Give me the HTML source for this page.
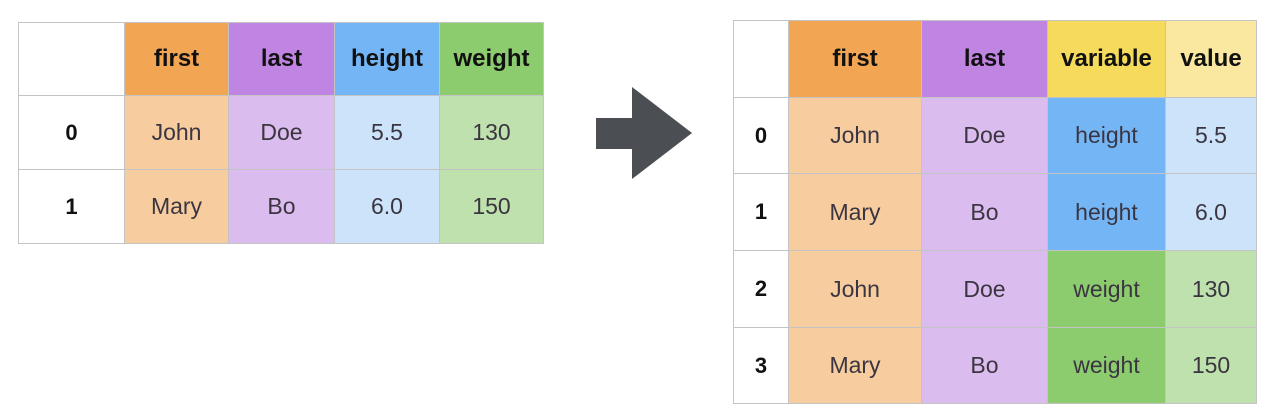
<!DOCTYPE html>
<html><head><meta charset="utf-8"><style>
html,body{margin:0;padding:0;background:#fff;}
body{width:1278px;height:415px;position:relative;overflow:hidden;font-family:"Liberation Sans",sans-serif;}
.c{position:absolute;box-sizing:border-box;border:1px solid #c4c4c4;display:flex;align-items:center;justify-content:center;font-size:23px;color:#3a3540;}
.h{font-weight:bold;font-size:24px;color:#111;}
.i{font-weight:bold;font-size:22px;color:#111;background:#fff;}
</style></head><body>
<!-- left table -->
<div class="c" style="left:18px;top:22px;width:107px;height:74px;background:#fff"></div>
<div class="c h" style="left:124px;top:22px;width:105px;height:74px;background:#f2a553">first</div>
<div class="c h" style="left:228px;top:22px;width:107px;height:74px;background:#c084e3">last</div>
<div class="c h" style="left:334px;top:22px;width:106px;height:74px;background:#74b6f5">height</div>
<div class="c h" style="left:439px;top:22px;width:105px;height:74px;background:#8ccb6e">weight</div>

<div class="c i" style="left:18px;top:95px;width:107px;height:75px">0</div>
<div class="c" style="left:124px;top:95px;width:105px;height:75px;background:#f7cd9f">John</div>
<div class="c" style="left:228px;top:95px;width:107px;height:75px;background:#dbbcee">Doe</div>
<div class="c" style="left:334px;top:95px;width:106px;height:75px;background:#cce3fa">5.5</div>
<div class="c" style="left:439px;top:95px;width:105px;height:75px;background:#bfe1ae">130</div>

<div class="c i" style="left:18px;top:169px;width:107px;height:75px">1</div>
<div class="c" style="left:124px;top:169px;width:105px;height:75px;background:#f7cd9f">Mary</div>
<div class="c" style="left:228px;top:169px;width:107px;height:75px;background:#dbbcee">Bo</div>
<div class="c" style="left:334px;top:169px;width:106px;height:75px;background:#cce3fa">6.0</div>
<div class="c" style="left:439px;top:169px;width:105px;height:75px;background:#bfe1ae">150</div>

<!-- arrow -->
<svg style="position:absolute;left:0;top:0" width="1278" height="415"><polygon points="596,118 632,118 632,87 692,133 632,179 632,149 596,149" fill="#4b4f54"/></svg>

<!-- right table -->
<div class="c" style="left:733px;top:20px;width:56px;height:78px;background:#fff"></div>
<div class="c h" style="left:788px;top:20px;width:134px;height:78px;background:#f2a553">first</div>
<div class="c h" style="left:921px;top:20px;width:127px;height:78px;background:#c084e3">last</div>
<div class="c h" style="left:1047px;top:20px;width:119px;height:78px;background:#f5da5c">variable</div>
<div class="c h" style="left:1165px;top:20px;width:92px;height:78px;background:#fae7a0">value</div>

<div class="c i" style="left:733px;top:97px;width:56px;height:77px">0</div>
<div class="c" style="left:788px;top:97px;width:134px;height:77px;background:#f7cd9f">John</div>
<div class="c" style="left:921px;top:97px;width:127px;height:77px;background:#dbbcee">Doe</div>
<div class="c" style="left:1047px;top:97px;width:119px;height:77px;background:#74b6f5">height</div>
<div class="c" style="left:1165px;top:97px;width:92px;height:77px;background:#cce3fa">5.5</div>

<div class="c i" style="left:733px;top:173px;width:56px;height:78px">1</div>
<div class="c" style="left:788px;top:173px;width:134px;height:78px;background:#f7cd9f">Mary</div>
<div class="c" style="left:921px;top:173px;width:127px;height:78px;background:#dbbcee">Bo</div>
<div class="c" style="left:1047px;top:173px;width:119px;height:78px;background:#74b6f5">height</div>
<div class="c" style="left:1165px;top:173px;width:92px;height:78px;background:#cce3fa">6.0</div>

<div class="c i" style="left:733px;top:250px;width:56px;height:78px">2</div>
<div class="c" style="left:788px;top:250px;width:134px;height:78px;background:#f7cd9f">John</div>
<div class="c" style="left:921px;top:250px;width:127px;height:78px;background:#dbbcee">Doe</div>
<div class="c" style="left:1047px;top:250px;width:119px;height:78px;background:#8ccb6e">weight</div>
<div class="c" style="left:1165px;top:250px;width:92px;height:78px;background:#bfe1ae">130</div>

<div class="c i" style="left:733px;top:327px;width:56px;height:77px">3</div>
<div class="c" style="left:788px;top:327px;width:134px;height:77px;background:#f7cd9f">Mary</div>
<div class="c" style="left:921px;top:327px;width:127px;height:77px;background:#dbbcee">Bo</div>
<div class="c" style="left:1047px;top:327px;width:119px;height:77px;background:#8ccb6e">weight</div>
<div class="c" style="left:1165px;top:327px;width:92px;height:77px;background:#bfe1ae">150</div>
</body></html>
